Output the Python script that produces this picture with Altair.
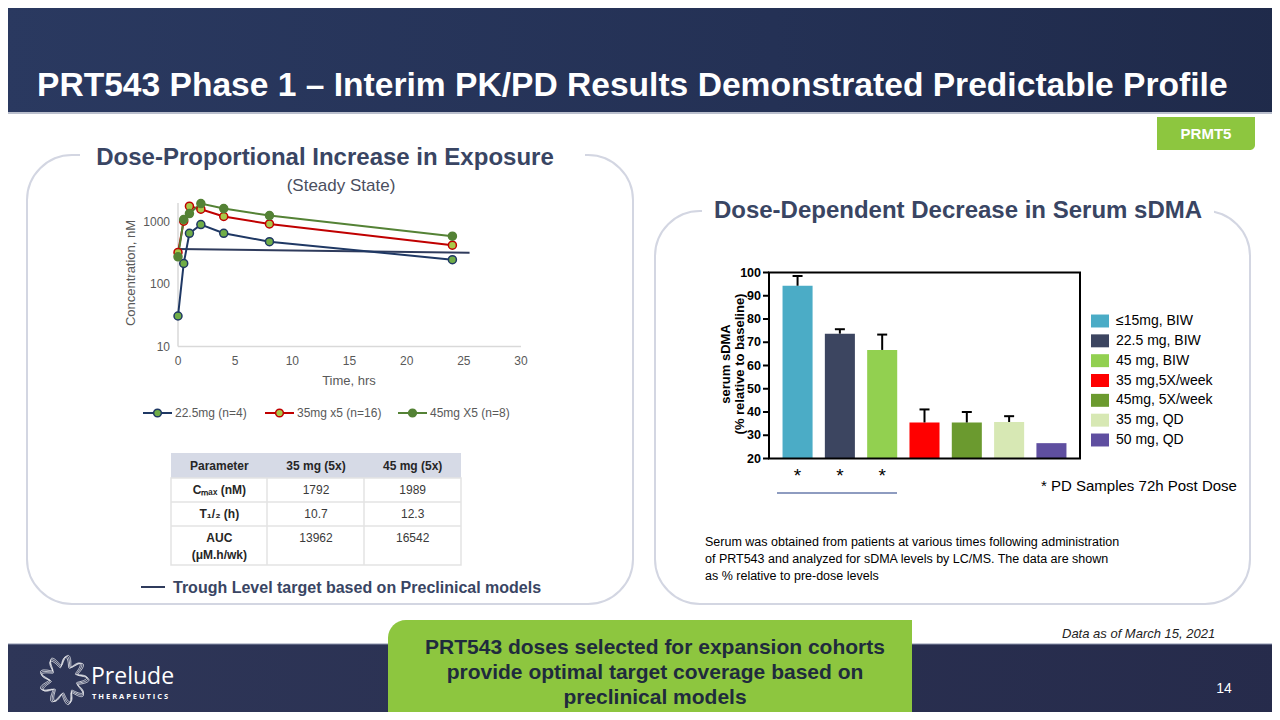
import math
import altair as alt
import pandas as pd

# ------------------------------------------------------------------ data
time_hrs = [0, 0.5, 1, 2, 4, 8, 24]
conc_22_5mg = [31, 218, 665, 918, 665, 488, 250]
conc_35mg_x5 = [327, 1042, 1815, 1625, 1240, 942, 428]
conc_45mg_x5 = [278, 1109, 1385, 2005, 1667, 1285, 598]
pk_series = ["22.5mg (n=4)", "35mg x5 (n=16)", "45mg X5 (n=8)"]
trough_time = [0, 25.5]
trough_conc = [370, 322]
pk_y_ticks = [10, 100, 1000]
pk_x_ticks = [0, 5, 10, 15, 20, 25, 30]

cohorts = ["≤15mg, BIW", "22.5 mg, BIW", "45 mg, BIW", "35 mg,5X/week",
           "45mg, 5X/week", "35 mg, QD", "50 mg, QD"]
sdma_mean = [94.3, 73.7, 66.7, 35.5, 35.5, 35.7, 26.6]
sdma_err_top = [98.5, 75.6, 73.3, 41.1, 40.0, 38.2, None]
pd_72h_flag = ["*", "*", "*", "", "", "", ""]
sdma_y_ticks = [20, 30, 40, 50, 60, 70, 80, 90, 100]

table_columns = ["Parameter", "35 mg (5x)", "45 mg (5x)"]
table_params = ["Cₘₐₓ (nM)", "T₁/₂ (h)", "AUC"]
table_35mg = ["1792", "10.7", "13962"]
table_45mg = ["1989", "12.3", "16542"]

# ------------------------------------------------------------------ styles
pk_line_colors = ["#1f3864", "#c00000", "#548235"]
pk_marker_fills = ["#70ad47", "#a9c94a", "#548235"]
cohort_colors = ["#4bacc6", "#3c4560", "#92d050", "#ff0000", "#6b9a2f", "#d7e8b4", "#5f4fa0"]
NAVY_TXT = "#394563"
PANEL_LINE = "#d3d6e2"
GREEN = "#8dc63f"
FONT = "Liberation Sans"
NARROW = "Liberation Sans Narrow, Liberation Sans"


def P(v):
    # slide pixel -> chart pixel (page has 8px margin)
    return v - 8


one = pd.DataFrame({"k": [0]})


def box(x1, y1, x2, y2, **kw):
    return alt.Chart(one).mark_rect(**kw).encode(
        x=alt.value(P(x1)), x2=alt.value(P(x2)), y=alt.value(P(y1)), y2=alt.value(P(y2)))


def label(x, y, text, **kw):
    kw.setdefault("font", FONT)
    return alt.Chart(one).mark_text(**kw).encode(
        x=alt.value(P(x)), y=alt.value(P(y)), text=alt.value(text))


def seg(x1, y1, x2, y2, color, w):
    return alt.Chart(one).mark_rule(color=color, strokeWidth=w).encode(
        x=alt.value(P(x1)), x2=alt.value(P(x2)), y=alt.value(P(y1)), y2=alt.value(P(y2)))


layers = []

# ------------------------------------------------------------------ slide background
header_grad = alt.Gradient(gradient="linear", x1=0, x2=1, y1=0, y2=0,
                           stops=[alt.GradientStop(color="#2a3960", offset=0),
                                  alt.GradientStop(color="#243155", offset=0.6),
                                  alt.GradientStop(color="#1f2a4a", offset=1)])
layers.append(box(0, 0, 1290, 112, fill=header_grad))
layers.append(seg(0, 113, 1290, 113, "#a3aabd", 1.5))
footer_grad = alt.Gradient(gradient="linear", x1=0, x2=1, y1=0, y2=0,
                           stops=[alt.GradientStop(color="#2e3658", offset=0),
                                  alt.GradientStop(color="#262b4b", offset=1)])
layers.append(box(0, 644, 1290, 730, fill=footer_grad))
layers.append(seg(0, 644, 1290, 644, "#8a92ab", 1))

layers.append(label(37, 96, "PRT543 Phase 1 –  Interim PK/PD Results Demonstrated Predictable Profile",
                    align="left", baseline="alphabetic", fontSize=33.6, fontWeight="bold", color="white"))

# PRMT5 tab
layers.append(box(1157, 117, 1255, 150, fill=GREEN, cornerRadiusBottomRight=5))
layers.append(label(1206, 134, "PRMT5", align="center", baseline="middle", fontSize=15,
                    fontWeight="bold", color="white"))

# panels
layers.append(box(27, 155, 633, 604, fill="white", stroke=PANEL_LINE, strokeWidth=2, cornerRadius=45))
layers.append(box(655, 211, 1250, 604, fill="white", stroke=PANEL_LINE, strokeWidth=2, cornerRadius=45))
layers.append(box(80, 145, 585, 166, fill="white"))
layers.append(box(702, 200, 1214, 222, fill="white"))
layers.append(label(325, 165, "Dose-Proportional Increase in Exposure", align="center",
                    baseline="alphabetic", fontSize=24, fontWeight="bold", color=NAVY_TXT))
layers.append(label(341, 191, "(Steady State)", align="center", baseline="alphabetic",
                    fontSize=17, color="#4a4f60"))
layers.append(label(958, 218, "Dose-Dependent Decrease in Serum sDMA", align="center",
                    baseline="alphabetic", fontSize=24, fontWeight="bold", color=NAVY_TXT))

# ------------------------------------------------------------------ PK line chart
rows = []
for name, vals in zip(pk_series, [conc_22_5mg, conc_35mg_x5, conc_45mg_x5]):
    for t, c in zip(time_hrs, vals):
        rows.append({"series": name, "time": t, "conc": c})
pk_df = pd.DataFrame(rows)
trough_df = pd.DataFrame({"time": trough_time, "conc": trough_conc})

xs = alt.Scale(domain=[0, 30], range=[P(178), P(521)], nice=False, zero=False)
ys = alt.Scale(type="log", domain=[10, 2046], range=[P(346.5), P(203)], nice=False)
stroke_sc = alt.Scale(domain=pk_series, range=pk_line_colors)
fill_sc = alt.Scale(domain=pk_series, range=pk_marker_fills)

pk_axes = [
    seg(178, 203, 178, 346.5, "#d9d9d9", 1.5),
    seg(178, 346.5, 521, 346.5, "#d9d9d9", 1.5),
]
pk_trough = alt.Chart(trough_df).mark_line(color="#2f3b5c", strokeWidth=2).encode(
    x=alt.X("time:Q", scale=xs, axis=None), y=alt.Y("conc:Q", scale=ys, axis=None))
pk_lines = alt.Chart(pk_df).mark_line(strokeWidth=2).encode(
    x=alt.X("time:Q", scale=xs, axis=None),
    y=alt.Y("conc:Q", scale=ys, axis=None),
    stroke=alt.Stroke("series:N", scale=stroke_sc, legend=None),
    detail="series:N")
pk_points = alt.Chart(pk_df).mark_point(shape="circle", filled=True, size=64, strokeWidth=1.5,
                                        opacity=1).encode(
    x=alt.X("time:Q", scale=xs, axis=None),
    y=alt.Y("conc:Q", scale=ys, axis=None),
    stroke=alt.Stroke("series:N", scale=stroke_sc, legend=None),
    fill=alt.Fill("series:N", scale=fill_sc, legend=None))
pk_ylab = alt.Chart(pd.DataFrame({"v": pk_y_ticks, "lab": [str(v) for v in pk_y_ticks]})).mark_text(
    align="right", baseline="middle", fontSize=12, color="#595959", font=FONT).encode(
    x=alt.value(P(170)), y=alt.Y("v:Q", scale=ys, axis=None), text="lab:N")
pk_xlab = alt.Chart(pd.DataFrame({"v": pk_x_ticks, "lab": [str(v) for v in pk_x_ticks]})).mark_text(
    align="center", baseline="middle", fontSize=12, color="#595959", font=FONT).encode(
    x=alt.X("v:Q", scale=xs, axis=None), y=alt.value(P(361)), text="lab:N")
pk = alt.layer(*pk_axes, pk_trough, pk_lines, pk_points, pk_ylab, pk_xlab)
layers.append(pk)
layers.append(label(131, 273, "Concentration, nM", angle=270, align="center", baseline="middle",
                    fontSize=13, color="#595959"))
layers.append(label(349, 381, "Time, hrs", align="center", baseline="middle", fontSize=13,
                    color="#595959"))

# PK legend
pk_legend_x = [143, 265, 398]
for i, name in enumerate(pk_series):
    x0 = pk_legend_x[i]
    layers.append(seg(x0, 413, x0 + 29, 413, pk_line_colors[i], 2))
    layers.append(alt.Chart(one).mark_point(shape="circle", filled=True, size=60, strokeWidth=1.5,
                                            opacity=1, fill=pk_marker_fills[i],
                                            stroke=pk_line_colors[i]).encode(
        x=alt.value(P(x0 + 14.5)), y=alt.value(P(413))))
    layers.append(label(x0 + 32, 413, name, align="left", baseline="middle", fontSize=12,
                        color="#595959"))

# ------------------------------------------------------------------ PK table
layers.append(box(171, 453, 461, 478, fill="#d6dae6"))
layers.append(box(171, 478, 461, 565, fill="white", stroke="#e3e3e3", strokeWidth=1.5))
for yy in [502, 526]:
    layers.append(seg(171, yy, 461, yy, "#e3e3e3", 1.5))
for xx in [267, 364]:
    layers.append(seg(xx, 478, xx, 565, "#e3e3e3", 1.5))

tab_rows = []
for c, txt in enumerate(table_columns):
    tab_rows.append({"col": c, "row": 0.0, "txt": txt, "bold": 1})
for r, txt in enumerate(table_params):
    tab_rows.append({"col": 0, "row": r + 1.0, "txt": txt, "bold": 1})
tab_rows.append({"col": 0, "row": 3.72, "txt": "(μM.h/wk)", "bold": 1})
for r, (a, b) in enumerate(zip(table_35mg, table_45mg)):
    tab_rows.append({"col": 1, "row": r + 1.0, "txt": a, "bold": 0})
    tab_rows.append({"col": 2, "row": r + 1.0, "txt": b, "bold": 0})
tab_df = pd.DataFrame(tab_rows)
tx = alt.Scale(domain=[-0.5, 2.5], range=[P(171), P(461)], nice=False, zero=False)
ty = alt.Scale(domain=[0, 3], range=[P(465.5), P(537.5)], nice=False, zero=False)
tab_bold = alt.Chart(tab_df).transform_filter("datum.bold == 1").mark_text(
    fontSize=12, fontWeight="bold", color="#262626", baseline="middle", font=FONT).encode(
    x=alt.X("col:Q", scale=tx, axis=None), y=alt.Y("row:Q", scale=ty, axis=None), text="txt:N")
tab_norm = alt.Chart(tab_df).transform_filter("datum.bold == 0").mark_text(
    fontSize=12, color="#3a3a3a", baseline="middle", font=FONT).encode(
    x=alt.X("col:Q", scale=tx, axis=None), y=alt.Y("row:Q", scale=ty, axis=None), text="txt:N")
layers.append(alt.layer(tab_bold, tab_norm))

layers.append(seg(141, 587, 165, 587, "#2f3b5c", 2))
layers.append(label(173, 593, "Trough Level target based on Preclinical models", align="left",
                    baseline="alphabetic", fontSize=16, fontWeight="bold", color=NAVY_TXT))

# ------------------------------------------------------------------ sDMA bar chart
sdma_df = pd.DataFrame({"cohort": cohorts, "mean": sdma_mean, "err": sdma_err_top,
                        "flag": pd_72h_flag})
bx = alt.Scale(domain=cohorts, range=[P(769), P(1080)], paddingInner=0.29, paddingOuter=0.32)
by = alt.Scale(domain=[20, 100], range=[P(458.5), P(272.5)], nice=False, zero=False)
col_sc = alt.Scale(domain=cohorts, range=cohort_colors)
X = alt.X("cohort:N", scale=bx, axis=None, sort=cohorts)

bars = alt.Chart(sdma_df).mark_bar().encode(
    x=X, y=alt.Y("mean:Q", scale=by, axis=None), y2=alt.datum(20),
    color=alt.Color("cohort:N", scale=col_sc, legend=None))
err_df = sdma_df.dropna(subset=["err"])
err_rule = alt.Chart(err_df).mark_rule(color="black", strokeWidth=2).encode(
    x=X, y=alt.Y("mean:Q", scale=by, axis=None), y2="err:Q")
err_cap = alt.Chart(err_df).mark_tick(color="black", thickness=2, size=10, opacity=1).encode(
    x=X, y=alt.Y("err:Q", scale=by, axis=None))
stars = alt.Chart(sdma_df).mark_text(fontSize=19, color="black", baseline="alphabetic",
                                     font=FONT).encode(
    x=X, y=alt.value(P(482)), text="flag:N")
frame = box(769, 272.5, 1080, 458.5, fill=None, stroke="black", strokeWidth=2)
ytick_df = pd.DataFrame({"v": sdma_y_ticks, "lab": [str(v) for v in sdma_y_ticks]})
yticks = alt.Chart(ytick_df).mark_rule(color="black", strokeWidth=2).encode(
    x=alt.value(P(763)), x2=alt.value(P(769)), y=alt.Y("v:Q", scale=by, axis=None))
ylabs = alt.Chart(ytick_df).mark_text(align="right", baseline="middle", fontSize=12.5,
                                      fontWeight="bold", color="black", font=NARROW).encode(
    x=alt.value(P(761)), y=alt.Y("v:Q", scale=by, axis=None), text="lab:N")
layers.append(alt.layer(bars, err_rule, err_cap, stars, frame, yticks, ylabs))

layers.append(label(726, 364, "serum sDMA", angle=270, align="center",
                    baseline="middle", fontSize=13, fontWeight="bold", color="black"))
layers.append(label(740, 364, "(% relative to baseline)", angle=270, align="center",
                    baseline="middle", fontSize=13, fontWeight="bold", color="black"))
layers.append(seg(777, 493, 897, 493, "#8e9cc0", 2))

# bar legend
leg_df = pd.DataFrame({"cohort": cohorts, "idx": list(range(len(cohorts)))})
ly = alt.Scale(domain=[0, len(cohorts) - 1], range=[P(321), P(440)], nice=False, zero=False)
SQ = "M-1,-0.72L1,-0.72L1,0.72L-1,0.72Z"
leg_sq = alt.Chart(leg_df).mark_point(shape=SQ, filled=True, size=324, opacity=1).encode(
    x=alt.value(P(1100)), y=alt.Y("idx:Q", scale=ly, axis=None),
    color=alt.Color("cohort:N", scale=col_sc, legend=None))
leg_tx = alt.Chart(leg_df).mark_text(align="left", baseline="middle", fontSize=14, color="black",
                                     font=FONT).encode(
    x=alt.value(P(1116)), y=alt.Y("idx:Q", scale=ly, axis=None), text="cohort:N")
layers.append(alt.layer(leg_sq, leg_tx))

layers.append(label(1041, 491, "* PD Samples 72h Post Dose", align="left", baseline="alphabetic",
                    fontSize=15, color="black"))
layers.append(label(705, 546, "Serum was obtained from patients at various times following administration\n"
                              "of PRT543 and analyzed for sDMA levels by LC/MS. The data are shown\n"
                              "as % relative to pre-dose levels",
                    align="left", baseline="alphabetic", fontSize=12.5, color="black",
                    lineHeight=17, lineBreak="\n"))

# ------------------------------------------------------------------ footer
layers.append(box(388, 620, 912, 740, fill=GREEN, cornerRadiusTopLeft=18,
                  cornerRadiusBottomRight=18))
layers.append(label(655, 654, "PRT543 doses selected for expansion cohorts\n"
                              "provide optimal target coverage based on\npreclinical models",
                    align="center", baseline="alphabetic", fontSize=21, fontWeight="bold",
                    color="#1f2b3d", lineHeight=25, lineBreak="\n"))
layers.append(label(1062, 638, "Data as of March 15, 2021", align="left", baseline="alphabetic",
                    fontSize=13, fontStyle="italic", color="#222222"))
layers.append(label(1224, 689, "14", align="center", baseline="middle", fontSize=14, color="white"))


def ring(phase, r0, amp, lobes=9, n=240):
    pts = []
    for k in range(n + 1):
        th = 2 * math.pi * k / n
        r = r0 + amp * math.cos(lobes * th + phase)
        pts.append(f"{r * math.cos(th):.3f},{r * math.sin(th):.3f}")
    return "M" + "L".join(pts) + "Z"


for ph, r0 in [(0.0, 0.78), (0.5, 0.74), (1.0, 0.70)]:
    layers.append(alt.Chart(one).mark_point(shape=ring(ph, r0, 0.2), filled=False, size=2600,
                                            stroke="white", strokeWidth=0.8, opacity=0.9).encode(
        x=alt.value(P(64)), y=alt.value(P(680))))
layers.append(label(91, 684, "Prelude", align="left", baseline="alphabetic", fontSize=23,
                    color="white", font="Open Sans"))
layers.append(label(92, 699, "T H E R A P E U T I C S", align="left", baseline="alphabetic",
                    fontSize=7.5, fontWeight="bold", color="white", font="Open Sans"))

chart = alt.layer(*layers).resolve_scale(
    x="independent", y="independent", color="independent", fill="independent",
    stroke="independent"
).properties(
    width=1264, height=704, padding=0, autosize="none", background="white"
).configure_view(stroke=None)

chart.save("out.html", embed_options={"renderer": "svg", "actions": False})
